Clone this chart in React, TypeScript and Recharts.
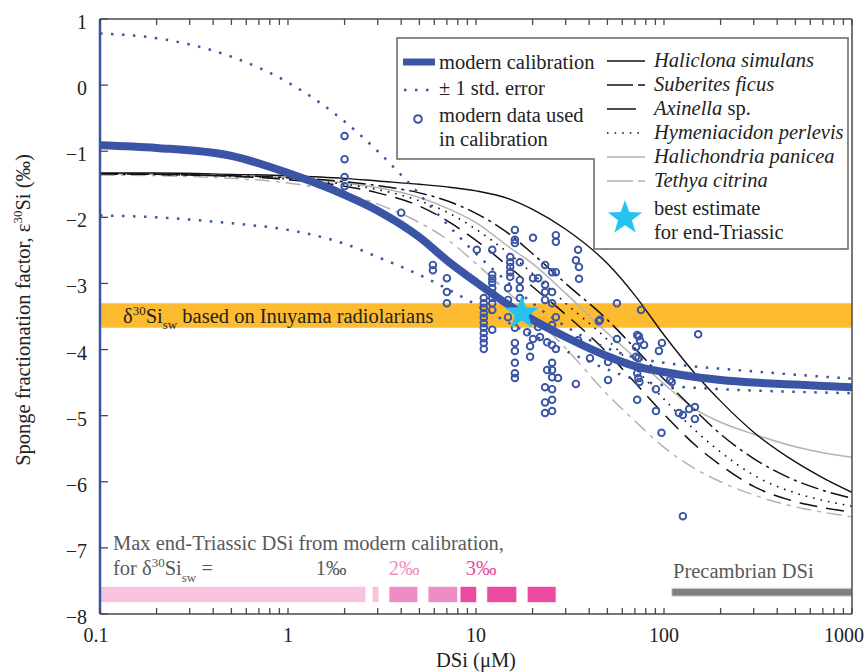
import React from "react";
import { ComposedChart, Line, Scatter, XAxis, YAxis, ReferenceArea } from "recharts";

const DSI = [0.1, 0.2, 0.5, 1, 2, 3, 5, 7, 10, 15, 20, 30, 50, 70, 100, 150, 200, 300, 500, 700, 1000];

// modern calibration and its ±1 std. error envelope (‰)
const CALIBRATION = [-0.91, -0.95, -1.07, -1.33, -1.66, -1.9, -2.3, -2.65, -2.98, -3.33, -3.55, -3.81, -4.1, -4.25, -4.34, -4.42, -4.46, -4.5, -4.53, -4.55, -4.57];
const STD_UPPER = [0.78, 0.71, 0.43, 0.04, -0.55, -1.0, -1.65, -2.1, -2.55, -3.0, -3.3, -3.65, -3.98, -4.12, -4.2, -4.26, -4.29, -4.33, -4.38, -4.41, -4.44];
const STD_LOWER = [-1.97, -2.0, -2.09, -2.19, -2.4, -2.6, -2.87, -3.08, -3.32, -3.6, -3.78, -4.02, -4.3, -4.45, -4.54, -4.58, -4.6, -4.62, -4.64, -4.65, -4.66];

// species-specific fits
const HALICLONA = [-1.33, -1.33, -1.35, -1.37, -1.41, -1.45, -1.5, -1.54, -1.6, -1.72, -1.88, -2.18, -2.7, -3.18, -3.78, -4.4, -4.78, -5.25, -5.7, -5.94, -6.16];
const SUBERITES = [-1.34, -1.35, -1.37, -1.4, -1.46, -1.52, -1.63, -1.75, -1.94, -2.25, -2.55, -3.0, -3.55, -3.98, -4.45, -4.95, -5.28, -5.65, -5.98, -6.13, -6.25];
const AXINELLA = [-1.34, -1.35, -1.38, -1.43, -1.53, -1.63, -1.83, -2.05, -2.35, -2.75, -3.05, -3.47, -4.05, -4.5, -4.98, -5.47, -5.75, -6.07, -6.3, -6.39, -6.46];
const HYMENIACIDON = [-1.34, -1.35, -1.38, -1.42, -1.5, -1.58, -1.75, -1.92, -2.18, -2.55, -2.85, -3.3, -3.85, -4.28, -4.75, -5.25, -5.55, -5.9, -6.17, -6.28, -6.37];
const HALICHONDRIA = [-1.34, -1.35, -1.37, -1.4, -1.48, -1.55, -1.7, -1.86, -2.08, -2.45, -2.7, -3.15, -3.75, -4.12, -4.52, -4.92, -5.1, -5.28, -5.47, -5.56, -5.63];
const TETHYA = [-1.36, -1.37, -1.41, -1.48, -1.64, -1.8, -2.08, -2.33, -2.7, -3.15, -3.48, -3.98, -4.68, -5.08, -5.48, -5.82, -6.0, -6.2, -6.38, -6.46, -6.53];

// modern data used in calibration: [DSi, epsilon]
const MODERN_DATA: [number, number][] = [
  [2.0, -0.77], [2.0, -1.12], [2.0, -1.39], [2.0, -1.53], [4.0, -1.93],
  [5.9, -2.72], [5.9, -2.8], [7.0, -2.92], [7.0, -3.13], [7.0, -3.3],
  [10.1, -2.49], [12.2, -2.49], [15.2, -2.6], [16.1, -2.19], [16.1, -2.34], [16.1, -2.39],
  [20.1, -2.31], [26.6, -2.27], [26.6, -2.37], [34.9, -2.49], [34.0, -2.65], [35.3, -2.75], [35.3, -2.93],
  [15.2, -2.68], [15.2, -2.75], [15.2, -2.83], [15.2, -2.9],
  [11, -3.22], [11, -3.3], [11, -3.37], [11, -3.45], [11, -3.52], [11, -3.6], [11, -3.67], [11, -3.75], [11, -3.83], [11, -3.9], [11, -3.99],
  [12.2, -2.87], [12.2, -2.93], [12.2, -2.99], [12.2, -3.07], [12.2, -3.15], [12.2, -3.22], [12.2, -3.3], [12.2, -3.4],
  [17.1, -2.68], [17.1, -2.95], [17.1, -3.07], [17.1, -3.22], [14.8, -3.07], [14.8, -3.25],
  [20.1, -2.92], [21.4, -2.92], [23.3, -2.72], [23.3, -3.02], [23.3, -3.13], [23.3, -3.25],
  [25.4, -2.83], [26.6, -2.83], [25.4, -3.13], [25.4, -3.3], [12.2, -3.7], [14.8, -3.51],
  [16.1, -3.67], [16.1, -3.9], [16.1, -4.02], [16.1, -4.2], [16.1, -4.36], [16.1, -4.43],
  [18.7, -3.74], [19.4, -3.95], [20.1, -3.84], [19.4, -4.11], [21.4, -3.66], [21.9, -3.81], [23.9, -3.89],
  [25.4, -3.63], [25.4, -3.93], [26.6, -3.51], [26.6, -3.99], [25.4, -4.2], [25.4, -4.31], [25.4, -4.42], [23.9, -4.31], [27.3, -4.43],
  [23.3, -4.57], [25.4, -4.6], [25.4, -4.76], [23.3, -4.8], [25.4, -4.93], [23.3, -4.96],
  [34.0, -4.52], [45.7, -3.55], [56.2, -3.3], [75.5, -3.4], [56.2, -3.84],
  [72, -3.78], [73.5, -3.8], [74.5, -3.86], [78.3, -3.93], [71, -3.96],
  [97.5, -3.9], [94, -4.02], [40.4, -4.13], [50.4, -4.46], [50.4, -4.19],
  [72, -4.36], [73, -4.43], [74, -4.49], [71, -4.11], [73, -4.13],
  [107.6, -4.46], [110, -4.49], [90.6, -4.6], [72, -4.76], [90.6, -4.93], [97, -5.26],
  [120, -4.96], [126, -4.99], [136, -4.9], [146, -4.87], [146, -5.05],
  [152, -3.77], [126, -6.52], [45, -3.57], [34.9, -3.86],
];

const BEST_ESTIMATE: [number, number] = [17.5, -3.45];
const INUYAMA_RANGE: [number, number] = [-3.67, -3.3]; // δ30Si_sw band
// max end-Triassic DSi ranges and the δ30Si_sw offset (‰) each belongs to
const MAX_DSI_RANGES: [number, number][] = [[0.1, 2.6], [2.8, 3.05], [3.44, 4.91], [5.55, 8.0], [8.22, 10.1], [11.4, 16.5], [18.7, 26.7]];
const MAX_DSI_OFFSET = [1, 1, 2, 2, 3, 3, 3];
const PRECAMBRIAN_RANGE: [number, number] = [110, 1000];

const X_MAJOR = [0.1, 1, 10, 100, 1000];
const X_MINOR = [0.2, 0.3, 0.4, 0.5, 0.6, 0.7, 0.8, 0.9, 2, 3, 4, 5, 6, 7, 8, 9, 20, 30, 40, 50, 60, 70, 80, 90, 200, 300, 400, 500, 600, 700, 800, 900];
const Y_TICKS = [1, 0, -1, -2, -3, -4, -5, -6, -7, -8];

const W = 866;
const H = 672;
// plot frame in page pixels (set by the chart margins below)
const FRAME = { left: 100, right: 852, top: 19, bottom: 614 };
const BLUE = "#3a55a6";
const AXIS = "#4a4a4a";
const GREY_TXT = "#595959";
const SERIF = '"Liberation Serif", "Times New Roman", serif';
const OFFSET_COLORS: Record<number, string> = { 1: "#f9c3df", 2: "#f08cc4", 3: "#ea4aa0" };

const SPECIES = [
  { key: "tet", stroke: "#b3b3b3", width: 1.5, dash: "15 6 4 6" },
  { key: "hcd", stroke: "#b3b3b3", width: 1.5, dash: undefined },
  { key: "axi", stroke: "#111", width: 1.5, dash: "18 9" },
  { key: "hym", stroke: "#111", width: 1.6, dash: "1.6 6" },
  { key: "sub", stroke: "#111", width: 1.5, dash: "18 5 3 5" },
  { key: "hal", stroke: "#111", width: 1.4, dash: undefined },
];

const rows = DSI.map((x, i) => ({
  x,
  cal: CALIBRATION[i],
  up: STD_UPPER[i],
  lo: STD_LOWER[i],
  hal: HALICLONA[i],
  sub: SUBERITES[i],
  axi: AXINELLA[i],
  hym: HYMENIACIDON[i],
  hcd: HALICHONDRIA[i],
  tet: TETHYA[i],
}));
const modern = MODERN_DATA.map(([x, y]) => ({ x, y }));
const star = [{ x: BEST_ESTIMATE[0], y: BEST_ESTIMATE[1] }];
const X_ALL = [...X_MAJOR, ...X_MINOR].sort((a, b) => a - b);

// axis furniture positions (same log / linear mapping as the chart axes)
const tickX = (v: number) => FRAME.left + ((Math.log10(v) + 1) / 4) * (FRAME.right - FRAME.left);
const tickY = (v: number) => FRAME.top + ((1 - v) / 9) * (FRAME.bottom - FRAME.top);

function starPoints(cx: number, cy: number, R: number, r: number) {
  const pts: string[] = [];
  for (let k = 0; k < 10; k++) {
    const a = -Math.PI / 2 + (k * Math.PI) / 5;
    const rad = k % 2 === 0 ? R : r;
    pts.push(`${cx + rad * Math.cos(a)},${cy + rad * Math.sin(a)}`);
  }
  return pts.join(" ");
}

const XTick = (p: any) => {
  const v = p.payload.value;
  const shift = v === 1000 ? -8 : v === 0.1 ? -4 : 0;
  return (
    <text x={p.x + shift} y={FRAME.bottom} dy={28} textAnchor="middle" fontFamily={SERIF} fontSize={20} fill="#222">
      {v}
    </text>
  );
};

const YTick = (p: any) => (
  <text x={87} y={p.y} dy={10} textAnchor="end" fontFamily={SERIF} fontSize={20} fill="#222">
    {p.payload.value < 0 ? `\u2212${Math.abs(p.payload.value)}` : p.payload.value}
  </text>
);

function Overlay() {
  const lx = 607;
  const tx = 654;
  return (
    <svg width={W} height={H} style={{ position: "absolute", left: 0, top: 0, pointerEvents: "none" }} fontFamily={SERIF} fontSize={20.5} fill="#222">
      {/* frame top/right edges and inward ticks */}
      <g stroke={AXIS} fill="none">
        <line x1={FRAME.left} x2={FRAME.right} y1={FRAME.top} y2={FRAME.top} strokeWidth={1.5} />
        <line x1={FRAME.right} x2={FRAME.right} y1={FRAME.top} y2={FRAME.bottom} strokeWidth={1.5} />
        {X_ALL.map((v) => (
          <g key={v} strokeWidth={1.3}>
            <line x1={tickX(v)} x2={tickX(v)} y1={FRAME.bottom} y2={FRAME.bottom - 6} />
            <line x1={tickX(v)} x2={tickX(v)} y1={FRAME.top} y2={FRAME.top + 6} />
          </g>
        ))}
        {Y_TICKS.map((v) => (
          <line key={v} x1={FRAME.left} x2={FRAME.left + 8} y1={tickY(v)} y2={tickY(v)} strokeWidth={1.3} />
        ))}
      </g>

      {/* axis titles */}
      <text transform="translate(30,310) rotate(-90)" textAnchor="middle">
        Sponge fractionation factor, ε<tspan dy={-8} fontSize={13}>30</tspan>
        <tspan dy={8}>Si (‰)</tspan>
      </text>
      <text x={476} y={667} textAnchor="middle">DSi (μM)</text>

      {/* band label */}
      <text x={123} y={323}>
        δ<tspan dy={-8} fontSize={13}>30</tspan>
        <tspan dy={8}>Si</tspan>
        <tspan dy={6} fontSize={13}>sw</tspan>
        <tspan dy={-6}> based on Inuyama radiolarians</tspan>
      </text>

      {/* legend */}
      <polygon points="397,38 848,38 848,249 594,249 594,159 397,159" fill="#fff" stroke="#666" strokeWidth={1.5} />
      <line x1={403} x2={435} y1={62} y2={62} stroke={BLUE} strokeWidth={7} />
      <text x={439} y={69}>modern calibration</text>
      <line x1={404} x2={434} y1={90} y2={90} stroke={BLUE} strokeWidth={2.5} strokeDasharray="2.5 8.5" />
      <text x={439} y={95}>± 1 std. error</text>
      <circle cx={418} cy={119} r={3.8} fill="none" stroke={BLUE} strokeWidth={2} />
      <text x={439} y={122}>modern data used</text>
      <text x={439} y={146}>in calibration</text>

      <line x1={lx} x2={lx + 38} y1={61} y2={61} stroke="#111" strokeWidth={1.4} />
      <text x={tx} y={67} fontStyle="italic">Haliclona simulans</text>
      <line x1={lx} x2={lx + 38} y1={85} y2={85} stroke="#111" strokeWidth={1.5} strokeDasharray="26 5 7 5" />
      <text x={tx} y={91} fontStyle="italic">Suberites ficus</text>
      <line x1={lx} x2={lx + 29} y1={109} y2={109} stroke="#111" strokeWidth={1.5} />
      <text x={tx} y={115}>
        <tspan fontStyle="italic">Axinella</tspan> sp.
      </text>
      <line x1={lx} x2={lx + 38} y1={133} y2={133} stroke="#111" strokeWidth={1.6} strokeDasharray="1.6 6" />
      <text x={tx} y={139} fontStyle="italic">Hymeniacidon perlevis</text>
      <line x1={lx} x2={lx + 38} y1={157} y2={157} stroke="#b3b3b3" strokeWidth={1.5} />
      <text x={tx} y={163} fontStyle="italic">Halichondria panicea</text>
      <line x1={lx} x2={lx + 38} y1={181} y2={181} stroke="#b3b3b3" strokeWidth={1.5} strokeDasharray="26 5 7 5" />
      <text x={tx} y={187} fontStyle="italic">Tethya citrina</text>
      <polygon points={starPoints(625, 218, 18, 7.3)} fill="#25c4f0" />
      <text x={tx} y={215}>best estimate</text>
      <text x={tx} y={239}>for end-Triassic</text>

      {/* bottom annotations */}
      <g fill={GREY_TXT}>
        <text x={113} y={550}>Max end-Triassic DSi from modern calibration,</text>
        <text x={113} y={575}>
          for δ<tspan dy={-8} fontSize={13}>30</tspan>
          <tspan dy={8}>Si</tspan>
          <tspan dy={7} fontSize={13}>sw</tspan>
          <tspan dy={-7}> =</tspan>
        </text>
        <text x={331} y={575} textAnchor="middle">1‰</text>
        <text x={673} y={578}>Precambrian DSi</text>
      </g>
      <text x={404} y={575} textAnchor="middle" fill={OFFSET_COLORS[2]}>2‰</text>
      <text x={481} y={575} textAnchor="middle" fill={OFFSET_COLORS[3]}>3‰</text>
    </svg>
  );
}

export default function App() {
  return (
    <div style={{ position: "absolute", left: 0, top: 0, width: W, height: H }}>
      <ComposedChart width={W} height={H} data={rows} margin={{ top: 19, right: 14, bottom: 28, left: 40 }}>
        <XAxis
          dataKey="x"
          type="number"
          scale="log"
          domain={[0.1, 1000]}
          allowDataOverflow
          ticks={X_MAJOR}
          interval={0}
          height={30}
          tickLine={false}
          axisLine={{ stroke: AXIS, strokeWidth: 1.5 }}
          tick={<XTick />}
        />
        <YAxis
          type="number"
          domain={[-8, 1]}
          allowDataOverflow
          ticks={Y_TICKS}
          interval={0}
          width={60}
          tickLine={false}
          axisLine={{ stroke: BLUE, strokeWidth: 2.5 }}
          tick={<YTick />}
        />

        <ReferenceArea x1={0.1} x2={1000} y1={INUYAMA_RANGE[0]} y2={INUYAMA_RANGE[1]} fill="#fdbc30" fillOpacity={1} stroke="none" />
        {MAX_DSI_RANGES.map(([a, b], i) => (
          <ReferenceArea key={i} x1={a} x2={b} y1={-7.83} y2={-7.58} fill={OFFSET_COLORS[MAX_DSI_OFFSET[i]]} fillOpacity={1} stroke="#fff" strokeWidth={1} />
        ))}
        <ReferenceArea x1={PRECAMBRIAN_RANGE[0]} x2={PRECAMBRIAN_RANGE[1]} y1={-7.73} y2={-7.61} fill="#808080" fillOpacity={1} stroke="#ddd" strokeWidth={1} />

        {SPECIES.map((s) => (
          <Line key={s.key} dataKey={s.key} type="monotone" stroke={s.stroke} strokeWidth={s.width} strokeDasharray={s.dash}
            dot={false} activeDot={false} isAnimationActive={false} />
        ))}
        <Line dataKey="up" type="monotone" stroke={BLUE} strokeWidth={2.5} strokeDasharray="2.5 8.5" dot={false} activeDot={false} isAnimationActive={false} />
        <Line dataKey="lo" type="monotone" stroke={BLUE} strokeWidth={2.5} strokeDasharray="2.5 8.5" dot={false} activeDot={false} isAnimationActive={false} />
        <Line dataKey="cal" type="monotone" stroke={BLUE} strokeWidth={8} dot={false} activeDot={false} isAnimationActive={false} />
        <Scatter data={modern} dataKey="y" isAnimationActive={false}
          shape={(p: any) => <circle cx={p.cx} cy={p.cy} r={3.3} fill="none" stroke={BLUE} strokeWidth={1.9} />} />
        <Scatter data={star} dataKey="y" isAnimationActive={false}
          shape={(p: any) => <polygon points={starPoints(p.cx, p.cy, 18, 7.3)} fill="#25c4f0" />} />
      </ComposedChart>
      <Overlay />
    </div>
  );
}
